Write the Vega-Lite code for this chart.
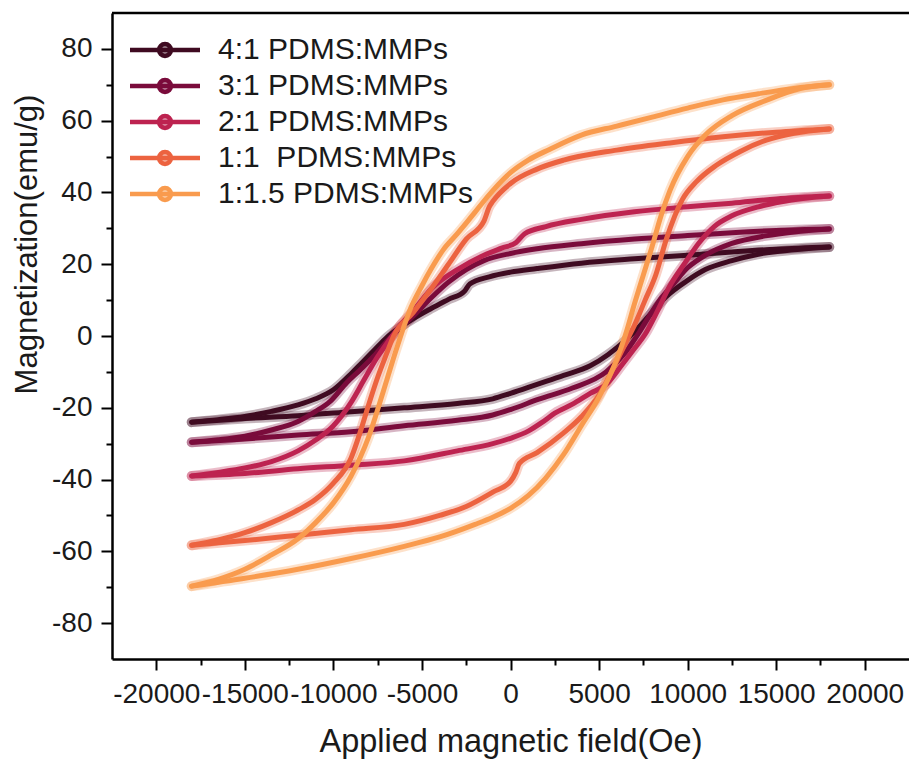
{
"$schema": "https://vega.github.io/schema/vega-lite/v6.json",
"width": 797, "height": 646,
"autosize": {"type": "none"},
"padding": {"left": 112, "top": 13, "right": 0, "bottom": 101},
"background": "white",
"config": {"view": {"stroke": null}, "font": "Liberation Sans"},
"data": {"values": [
{"s":"4:1 PDMS:MMPs","b":"d","h":18000,"m":24.8},{"s":"4:1 PDMS:MMPs","b":"d","h":15000,"m":24.2},{"s":"4:1 PDMS:MMPs","b":"d","h":12500,"m":23.4},{"s":"4:1 PDMS:MMPs","b":"d","h":10000,"m":22.5},{"s":"4:1 PDMS:MMPs","b":"d","h":7000,"m":21.5},{"s":"4:1 PDMS:MMPs","b":"d","h":4000,"m":20.3},{"s":"4:1 PDMS:MMPs","b":"d","h":1500,"m":18.8},{"s":"4:1 PDMS:MMPs","b":"d","h":0,"m":17.8},{"s":"4:1 PDMS:MMPs","b":"d","h":-1200,"m":16.5},{"s":"4:1 PDMS:MMPs","b":"d","h":-2300,"m":14.5},{"s":"4:1 PDMS:MMPs","b":"d","h":-2600,"m":12.5},{"s":"4:1 PDMS:MMPs","b":"d","h":-3500,"m":10.2},{"s":"4:1 PDMS:MMPs","b":"d","h":-4500,"m":7.6},{"s":"4:1 PDMS:MMPs","b":"d","h":-5500,"m":4.8},{"s":"4:1 PDMS:MMPs","b":"d","h":-6300,"m":2.2},{"s":"4:1 PDMS:MMPs","b":"d","h":-7000,"m":-0.5},{"s":"4:1 PDMS:MMPs","b":"d","h":-7700,"m":-4},{"s":"4:1 PDMS:MMPs","b":"d","h":-8400,"m":-7.5},{"s":"4:1 PDMS:MMPs","b":"d","h":-9000,"m":-10.5},{"s":"4:1 PDMS:MMPs","b":"d","h":-10000,"m":-15},{"s":"4:1 PDMS:MMPs","b":"d","h":-11000,"m":-17.5},{"s":"4:1 PDMS:MMPs","b":"d","h":-12000,"m":-19.2},{"s":"4:1 PDMS:MMPs","b":"d","h":-13500,"m":-21},{"s":"4:1 PDMS:MMPs","b":"d","h":-15000,"m":-22.4},{"s":"4:1 PDMS:MMPs","b":"d","h":-16500,"m":-23.3},{"s":"4:1 PDMS:MMPs","b":"d","h":-18000,"m":-24},
{"s":"4:1 PDMS:MMPs","b":"a","h":-18000,"m":-24},{"s":"4:1 PDMS:MMPs","b":"a","h":-15000,"m":-23},{"s":"4:1 PDMS:MMPs","b":"a","h":-12000,"m":-22.2},{"s":"4:1 PDMS:MMPs","b":"a","h":-9000,"m":-21.1},{"s":"4:1 PDMS:MMPs","b":"a","h":-6000,"m":-20},{"s":"4:1 PDMS:MMPs","b":"a","h":-3000,"m":-18.8},{"s":"4:1 PDMS:MMPs","b":"a","h":-1000,"m":-17.5},{"s":"4:1 PDMS:MMPs","b":"a","h":0,"m":-16},{"s":"4:1 PDMS:MMPs","b":"a","h":1500,"m":-13.5},{"s":"4:1 PDMS:MMPs","b":"a","h":3000,"m":-11},{"s":"4:1 PDMS:MMPs","b":"a","h":4500,"m":-8.3},{"s":"4:1 PDMS:MMPs","b":"a","h":5500,"m":-5.2},{"s":"4:1 PDMS:MMPs","b":"a","h":6200,"m":-2.5},{"s":"4:1 PDMS:MMPs","b":"a","h":7000,"m":1.2},{"s":"4:1 PDMS:MMPs","b":"a","h":7800,"m":5.5},{"s":"4:1 PDMS:MMPs","b":"a","h":8800,"m":11},{"s":"4:1 PDMS:MMPs","b":"a","h":10000,"m":15.5},{"s":"4:1 PDMS:MMPs","b":"a","h":11000,"m":18.5},{"s":"4:1 PDMS:MMPs","b":"a","h":12500,"m":21},{"s":"4:1 PDMS:MMPs","b":"a","h":14000,"m":22.8},{"s":"4:1 PDMS:MMPs","b":"a","h":16000,"m":24},{"s":"4:1 PDMS:MMPs","b":"a","h":18000,"m":24.8},
{"s":"3:1 PDMS:MMPs","b":"d","h":18000,"m":29.8},{"s":"3:1 PDMS:MMPs","b":"d","h":15000,"m":29.4},{"s":"3:1 PDMS:MMPs","b":"d","h":12500,"m":28.8},{"s":"3:1 PDMS:MMPs","b":"d","h":10000,"m":28},{"s":"3:1 PDMS:MMPs","b":"d","h":7000,"m":27},{"s":"3:1 PDMS:MMPs","b":"d","h":4000,"m":25.7},{"s":"3:1 PDMS:MMPs","b":"d","h":1500,"m":24.3},{"s":"3:1 PDMS:MMPs","b":"d","h":0,"m":23},{"s":"3:1 PDMS:MMPs","b":"d","h":-1500,"m":21},{"s":"3:1 PDMS:MMPs","b":"d","h":-2500,"m":18.5},{"s":"3:1 PDMS:MMPs","b":"d","h":-3500,"m":15},{"s":"3:1 PDMS:MMPs","b":"d","h":-4500,"m":10.5},{"s":"3:1 PDMS:MMPs","b":"d","h":-5500,"m":5.5},{"s":"3:1 PDMS:MMPs","b":"d","h":-6300,"m":2},{"s":"3:1 PDMS:MMPs","b":"d","h":-6900,"m":-1},{"s":"3:1 PDMS:MMPs","b":"d","h":-7700,"m":-5.5},{"s":"3:1 PDMS:MMPs","b":"d","h":-8500,"m":-9.5},{"s":"3:1 PDMS:MMPs","b":"d","h":-9250,"m":-13},{"s":"3:1 PDMS:MMPs","b":"d","h":-10200,"m":-18.3},{"s":"3:1 PDMS:MMPs","b":"d","h":-11000,"m":-21},{"s":"3:1 PDMS:MMPs","b":"d","h":-12000,"m":-23.8},{"s":"3:1 PDMS:MMPs","b":"d","h":-13500,"m":-26.2},{"s":"3:1 PDMS:MMPs","b":"d","h":-15000,"m":-27.9},{"s":"3:1 PDMS:MMPs","b":"d","h":-16500,"m":-28.9},{"s":"3:1 PDMS:MMPs","b":"d","h":-18000,"m":-29.6},
{"s":"3:1 PDMS:MMPs","b":"a","h":-18000,"m":-29.6},{"s":"3:1 PDMS:MMPs","b":"a","h":-15000,"m":-28.7},{"s":"3:1 PDMS:MMPs","b":"a","h":-12000,"m":-27.6},{"s":"3:1 PDMS:MMPs","b":"a","h":-9000,"m":-26.7},{"s":"3:1 PDMS:MMPs","b":"a","h":-6000,"m":-25},{"s":"3:1 PDMS:MMPs","b":"a","h":-3000,"m":-23.5},{"s":"3:1 PDMS:MMPs","b":"a","h":-1000,"m":-22},{"s":"3:1 PDMS:MMPs","b":"a","h":0,"m":-20.5},{"s":"3:1 PDMS:MMPs","b":"a","h":1600,"m":-17.6},{"s":"3:1 PDMS:MMPs","b":"a","h":3500,"m":-14.5},{"s":"3:1 PDMS:MMPs","b":"a","h":5400,"m":-10},{"s":"3:1 PDMS:MMPs","b":"a","h":6500,"m":-4.5},{"s":"3:1 PDMS:MMPs","b":"a","h":7200,"m":0.5},{"s":"3:1 PDMS:MMPs","b":"a","h":7700,"m":4.5},{"s":"3:1 PDMS:MMPs","b":"a","h":8500,"m":10.5},{"s":"3:1 PDMS:MMPs","b":"a","h":9200,"m":14.5},{"s":"3:1 PDMS:MMPs","b":"a","h":10000,"m":19},{"s":"3:1 PDMS:MMPs","b":"a","h":11000,"m":22.5},{"s":"3:1 PDMS:MMPs","b":"a","h":12500,"m":25.8},{"s":"3:1 PDMS:MMPs","b":"a","h":14400,"m":27.9},{"s":"3:1 PDMS:MMPs","b":"a","h":16000,"m":29},{"s":"3:1 PDMS:MMPs","b":"a","h":18000,"m":29.8},
{"s":"2:1 PDMS:MMPs","b":"d","h":18000,"m":39},{"s":"2:1 PDMS:MMPs","b":"d","h":15000,"m":38.2},{"s":"2:1 PDMS:MMPs","b":"d","h":12500,"m":37},{"s":"2:1 PDMS:MMPs","b":"d","h":10000,"m":36},{"s":"2:1 PDMS:MMPs","b":"d","h":7000,"m":34.6},{"s":"2:1 PDMS:MMPs","b":"d","h":4000,"m":32.5},{"s":"2:1 PDMS:MMPs","b":"d","h":2000,"m":30.5},{"s":"2:1 PDMS:MMPs","b":"d","h":800,"m":28.5},{"s":"2:1 PDMS:MMPs","b":"d","h":300,"m":26},{"s":"2:1 PDMS:MMPs","b":"d","h":-500,"m":24.5},{"s":"2:1 PDMS:MMPs","b":"d","h":-1500,"m":22.5},{"s":"2:1 PDMS:MMPs","b":"d","h":-3000,"m":18.5},{"s":"2:1 PDMS:MMPs","b":"d","h":-4400,"m":13.5},{"s":"2:1 PDMS:MMPs","b":"d","h":-5500,"m":7},{"s":"2:1 PDMS:MMPs","b":"d","h":-6300,"m":2.5},{"s":"2:1 PDMS:MMPs","b":"d","h":-6900,"m":-1.5},{"s":"2:1 PDMS:MMPs","b":"d","h":-7600,"m":-6.5},{"s":"2:1 PDMS:MMPs","b":"d","h":-8300,"m":-12.5},{"s":"2:1 PDMS:MMPs","b":"d","h":-9000,"m":-18.5},{"s":"2:1 PDMS:MMPs","b":"d","h":-10000,"m":-25},{"s":"2:1 PDMS:MMPs","b":"d","h":-11000,"m":-29},{"s":"2:1 PDMS:MMPs","b":"d","h":-12000,"m":-32},{"s":"2:1 PDMS:MMPs","b":"d","h":-13500,"m":-35},{"s":"2:1 PDMS:MMPs","b":"d","h":-15000,"m":-36.8},{"s":"2:1 PDMS:MMPs","b":"d","h":-16500,"m":-38},{"s":"2:1 PDMS:MMPs","b":"d","h":-18000,"m":-39},
{"s":"2:1 PDMS:MMPs","b":"a","h":-18000,"m":-39},{"s":"2:1 PDMS:MMPs","b":"a","h":-15000,"m":-38.3},{"s":"2:1 PDMS:MMPs","b":"a","h":-12000,"m":-37},{"s":"2:1 PDMS:MMPs","b":"a","h":-9000,"m":-36},{"s":"2:1 PDMS:MMPs","b":"a","h":-6000,"m":-34.8},{"s":"2:1 PDMS:MMPs","b":"a","h":-3000,"m":-32},{"s":"2:1 PDMS:MMPs","b":"a","h":-1000,"m":-30},{"s":"2:1 PDMS:MMPs","b":"a","h":0,"m":-28.5},{"s":"2:1 PDMS:MMPs","b":"a","h":1000,"m":-26.5},{"s":"2:1 PDMS:MMPs","b":"a","h":1800,"m":-24},{"s":"2:1 PDMS:MMPs","b":"a","h":2500,"m":-21.5},{"s":"2:1 PDMS:MMPs","b":"a","h":3500,"m":-19},{"s":"2:1 PDMS:MMPs","b":"a","h":4500,"m":-16},{"s":"2:1 PDMS:MMPs","b":"a","h":5400,"m":-13.5},{"s":"2:1 PDMS:MMPs","b":"a","h":6300,"m":-8},{"s":"2:1 PDMS:MMPs","b":"a","h":7000,"m":-3.5},{"s":"2:1 PDMS:MMPs","b":"a","h":7600,"m":0.5},{"s":"2:1 PDMS:MMPs","b":"a","h":8300,"m":7},{"s":"2:1 PDMS:MMPs","b":"a","h":9000,"m":14},{"s":"2:1 PDMS:MMPs","b":"a","h":9800,"m":20},{"s":"2:1 PDMS:MMPs","b":"a","h":10650,"m":26},{"s":"2:1 PDMS:MMPs","b":"a","h":11500,"m":30.5},{"s":"2:1 PDMS:MMPs","b":"a","h":12500,"m":33.5},{"s":"2:1 PDMS:MMPs","b":"a","h":14000,"m":36},{"s":"2:1 PDMS:MMPs","b":"a","h":15300,"m":37.4},{"s":"2:1 PDMS:MMPs","b":"a","h":16500,"m":38.3},{"s":"2:1 PDMS:MMPs","b":"a","h":18000,"m":39},
{"s":"1:1\u00a0 PDMS:MMPs","b":"d","h":18000,"m":57.7},{"s":"1:1\u00a0 PDMS:MMPs","b":"d","h":15000,"m":56.8},{"s":"1:1\u00a0 PDMS:MMPs","b":"d","h":12000,"m":55.5},{"s":"1:1\u00a0 PDMS:MMPs","b":"d","h":9000,"m":53.8},{"s":"1:1\u00a0 PDMS:MMPs","b":"d","h":6000,"m":51.8},{"s":"1:1\u00a0 PDMS:MMPs","b":"d","h":3000,"m":49},{"s":"1:1\u00a0 PDMS:MMPs","b":"d","h":1500,"m":46.5},{"s":"1:1\u00a0 PDMS:MMPs","b":"d","h":0,"m":42.5},{"s":"1:1\u00a0 PDMS:MMPs","b":"d","h":-1000,"m":37.5},{"s":"1:1\u00a0 PDMS:MMPs","b":"d","h":-1200,"m":36},{"s":"1:1\u00a0 PDMS:MMPs","b":"d","h":-1500,"m":32},{"s":"1:1\u00a0 PDMS:MMPs","b":"d","h":-2500,"m":27},{"s":"1:1\u00a0 PDMS:MMPs","b":"d","h":-3500,"m":20},{"s":"1:1\u00a0 PDMS:MMPs","b":"d","h":-4500,"m":13},{"s":"1:1\u00a0 PDMS:MMPs","b":"d","h":-5500,"m":6.5},{"s":"1:1\u00a0 PDMS:MMPs","b":"d","h":-6600,"m":0},{"s":"1:1\u00a0 PDMS:MMPs","b":"d","h":-7000,"m":-5},{"s":"1:1\u00a0 PDMS:MMPs","b":"d","h":-7500,"m":-11.5},{"s":"1:1\u00a0 PDMS:MMPs","b":"d","h":-8000,"m":-19},{"s":"1:1\u00a0 PDMS:MMPs","b":"d","h":-8500,"m":-27},{"s":"1:1\u00a0 PDMS:MMPs","b":"d","h":-9000,"m":-34},{"s":"1:1\u00a0 PDMS:MMPs","b":"d","h":-10000,"m":-41},{"s":"1:1\u00a0 PDMS:MMPs","b":"d","h":-11000,"m":-45.5},{"s":"1:1\u00a0 PDMS:MMPs","b":"d","h":-12000,"m":-48.5},{"s":"1:1\u00a0 PDMS:MMPs","b":"d","h":-13500,"m":-52},{"s":"1:1\u00a0 PDMS:MMPs","b":"d","h":-15000,"m":-54.8},{"s":"1:1\u00a0 PDMS:MMPs","b":"d","h":-16500,"m":-56.8},{"s":"1:1\u00a0 PDMS:MMPs","b":"d","h":-18000,"m":-58.3},
{"s":"1:1\u00a0 PDMS:MMPs","b":"a","h":-18000,"m":-58.3},{"s":"1:1\u00a0 PDMS:MMPs","b":"a","h":-15000,"m":-57},{"s":"1:1\u00a0 PDMS:MMPs","b":"a","h":-12000,"m":-55.5},{"s":"1:1\u00a0 PDMS:MMPs","b":"a","h":-9000,"m":-54},{"s":"1:1\u00a0 PDMS:MMPs","b":"a","h":-6000,"m":-52.5},{"s":"1:1\u00a0 PDMS:MMPs","b":"a","h":-4000,"m":-50},{"s":"1:1\u00a0 PDMS:MMPs","b":"a","h":-2500,"m":-47.5},{"s":"1:1\u00a0 PDMS:MMPs","b":"a","h":-1000,"m":-43.5},{"s":"1:1\u00a0 PDMS:MMPs","b":"a","h":0,"m":-40.5},{"s":"1:1\u00a0 PDMS:MMPs","b":"a","h":300,"m":-38},{"s":"1:1\u00a0 PDMS:MMPs","b":"a","h":500,"m":-35.5},{"s":"1:1\u00a0 PDMS:MMPs","b":"a","h":1500,"m":-32.5},{"s":"1:1\u00a0 PDMS:MMPs","b":"a","h":3000,"m":-27},{"s":"1:1\u00a0 PDMS:MMPs","b":"a","h":4000,"m":-22.5},{"s":"1:1\u00a0 PDMS:MMPs","b":"a","h":5000,"m":-16.5},{"s":"1:1\u00a0 PDMS:MMPs","b":"a","h":6000,"m":-7},{"s":"1:1\u00a0 PDMS:MMPs","b":"a","h":6700,"m":0},{"s":"1:1\u00a0 PDMS:MMPs","b":"a","h":7000,"m":3},{"s":"1:1\u00a0 PDMS:MMPs","b":"a","h":7600,"m":10},{"s":"1:1\u00a0 PDMS:MMPs","b":"a","h":8200,"m":17},{"s":"1:1\u00a0 PDMS:MMPs","b":"a","h":8800,"m":27},{"s":"1:1\u00a0 PDMS:MMPs","b":"a","h":9700,"m":38},{"s":"1:1\u00a0 PDMS:MMPs","b":"a","h":10500,"m":43},{"s":"1:1\u00a0 PDMS:MMPs","b":"a","h":11600,"m":47.5},{"s":"1:1\u00a0 PDMS:MMPs","b":"a","h":13000,"m":51.5},{"s":"1:1\u00a0 PDMS:MMPs","b":"a","h":14400,"m":54.5},{"s":"1:1\u00a0 PDMS:MMPs","b":"a","h":16000,"m":56.5},{"s":"1:1\u00a0 PDMS:MMPs","b":"a","h":18000,"m":57.7},
{"s":"1:1.5 PDMS:MMPs","b":"d","h":18000,"m":70},{"s":"1:1.5 PDMS:MMPs","b":"d","h":16000,"m":69},{"s":"1:1.5 PDMS:MMPs","b":"d","h":14000,"m":67.5},{"s":"1:1.5 PDMS:MMPs","b":"d","h":12000,"m":65.8},{"s":"1:1.5 PDMS:MMPs","b":"d","h":10000,"m":63.5},{"s":"1:1.5 PDMS:MMPs","b":"d","h":8000,"m":61},{"s":"1:1.5 PDMS:MMPs","b":"d","h":6000,"m":58.5},{"s":"1:1.5 PDMS:MMPs","b":"d","h":4000,"m":56},{"s":"1:1.5 PDMS:MMPs","b":"d","h":2200,"m":52},{"s":"1:1.5 PDMS:MMPs","b":"d","h":1000,"m":49},{"s":"1:1.5 PDMS:MMPs","b":"d","h":0,"m":45.5},{"s":"1:1.5 PDMS:MMPs","b":"d","h":-1000,"m":40.5},{"s":"1:1.5 PDMS:MMPs","b":"d","h":-1600,"m":37},{"s":"1:1.5 PDMS:MMPs","b":"d","h":-2000,"m":34.5},{"s":"1:1.5 PDMS:MMPs","b":"d","h":-3000,"m":28.5},{"s":"1:1.5 PDMS:MMPs","b":"d","h":-3800,"m":24},{"s":"1:1.5 PDMS:MMPs","b":"d","h":-4500,"m":18.5},{"s":"1:1.5 PDMS:MMPs","b":"d","h":-5000,"m":14},{"s":"1:1.5 PDMS:MMPs","b":"d","h":-5700,"m":7},{"s":"1:1.5 PDMS:MMPs","b":"d","h":-6200,"m":0},{"s":"1:1.5 PDMS:MMPs","b":"d","h":-6500,"m":-4.5},{"s":"1:1.5 PDMS:MMPs","b":"d","h":-7000,"m":-12.5},{"s":"1:1.5 PDMS:MMPs","b":"d","h":-7500,"m":-20.5},{"s":"1:1.5 PDMS:MMPs","b":"d","h":-8000,"m":-28},{"s":"1:1.5 PDMS:MMPs","b":"d","h":-8500,"m":-34},{"s":"1:1.5 PDMS:MMPs","b":"d","h":-9000,"m":-39},{"s":"1:1.5 PDMS:MMPs","b":"d","h":-10000,"m":-46.5},{"s":"1:1.5 PDMS:MMPs","b":"d","h":-11000,"m":-52},{"s":"1:1.5 PDMS:MMPs","b":"d","h":-12000,"m":-56.5},{"s":"1:1.5 PDMS:MMPs","b":"d","h":-13500,"m":-61},{"s":"1:1.5 PDMS:MMPs","b":"d","h":-15000,"m":-65},{"s":"1:1.5 PDMS:MMPs","b":"d","h":-16500,"m":-67.8},{"s":"1:1.5 PDMS:MMPs","b":"d","h":-18000,"m":-69.7},
{"s":"1:1.5 PDMS:MMPs","b":"a","h":-18000,"m":-69.7},{"s":"1:1.5 PDMS:MMPs","b":"a","h":-15000,"m":-67.5},{"s":"1:1.5 PDMS:MMPs","b":"a","h":-12000,"m":-65},{"s":"1:1.5 PDMS:MMPs","b":"a","h":-9000,"m":-62},{"s":"1:1.5 PDMS:MMPs","b":"a","h":-6000,"m":-58.6},{"s":"1:1.5 PDMS:MMPs","b":"a","h":-4000,"m":-56},{"s":"1:1.5 PDMS:MMPs","b":"a","h":-2000,"m":-52.5},{"s":"1:1.5 PDMS:MMPs","b":"a","h":-1000,"m":-50.5},{"s":"1:1.5 PDMS:MMPs","b":"a","h":0,"m":-48},{"s":"1:1.5 PDMS:MMPs","b":"a","h":1000,"m":-44.5},{"s":"1:1.5 PDMS:MMPs","b":"a","h":2000,"m":-39.5},{"s":"1:1.5 PDMS:MMPs","b":"a","h":3000,"m":-33},{"s":"1:1.5 PDMS:MMPs","b":"a","h":4000,"m":-25},{"s":"1:1.5 PDMS:MMPs","b":"a","h":5000,"m":-17},{"s":"1:1.5 PDMS:MMPs","b":"a","h":6000,"m":-6.5},{"s":"1:1.5 PDMS:MMPs","b":"a","h":6500,"m":0.5},{"s":"1:1.5 PDMS:MMPs","b":"a","h":7000,"m":9},{"s":"1:1.5 PDMS:MMPs","b":"a","h":7500,"m":17},{"s":"1:1.5 PDMS:MMPs","b":"a","h":8000,"m":25},{"s":"1:1.5 PDMS:MMPs","b":"a","h":8500,"m":33.5},{"s":"1:1.5 PDMS:MMPs","b":"a","h":9000,"m":40.5},{"s":"1:1.5 PDMS:MMPs","b":"a","h":10000,"m":50},{"s":"1:1.5 PDMS:MMPs","b":"a","h":11000,"m":56},{"s":"1:1.5 PDMS:MMPs","b":"a","h":12500,"m":61.4},{"s":"1:1.5 PDMS:MMPs","b":"a","h":14500,"m":65.8},{"s":"1:1.5 PDMS:MMPs","b":"a","h":16300,"m":68.9},{"s":"1:1.5 PDMS:MMPs","b":"a","h":18000,"m":70}
]},
"layer": [
{
"mark": {"type": "line", "interpolate": "monotone", "strokeWidth": 10, "opacity": 0.3, "strokeCap": "round", "strokeJoin": "round"},
"encoding": {
"x": {"field": "h", "type": "quantitative", "scale": {"domain": [-22500, 22500], "nice": false, "zero": false},
 "axis": {"values": [-20000,-15000,-10000,-5000,0,5000,10000,15000,20000], "labelExpr": "toString(datum.value)", "title": "Applied magnetic field(Oe)", "grid": false, "domainColor": "black", "domainWidth": 2.5, "tickColor": "black", "tickWidth": 2, "tickSize": 11, "labelFontSize": 28, "labelFont": "Liberation Sans", "labelColor": "#1a1a1a", "labelPadding": 10, "labelFlush": false, "labelOverlap": false, "titleFontSize": 32.5, "titleFont": "Liberation Sans", "titleFontWeight": "normal", "titleColor": "#1a1a1a", "titleY": 92, "titleBaseline": "alphabetic"}},
"y": {"field": "m", "type": "quantitative", "scale": {"domain": [-90, 90], "nice": false, "zero": false},
 "axis": {"values": [-80,-60,-40,-20,0,20,40,60,80], "labelExpr": "toString(datum.value)", "title": "Magnetization(emu/g)", "grid": false, "domainColor": "black", "domainWidth": 2.5, "tickColor": "black", "tickWidth": 2, "tickSize": 11, "labelFontSize": 28, "labelFont": "Liberation Sans", "labelColor": "#1a1a1a", "labelPadding": 9, "labelFlush": false, "labelOverlap": false, "titleFontSize": 31, "titleFont": "Liberation Sans", "titleFontWeight": "normal", "titleColor": "#1a1a1a", "titleX": -76, "titleY": 231, "titleAngle": -90, "titleAlign": "center", "titleBaseline": "alphabetic"}},
"color": {"field": "s", "type": "nominal", "scale": {"domain": ["4:1 PDMS:MMPs","3:1 PDMS:MMPs","2:1 PDMS:MMPs","1:1\u00a0 PDMS:MMPs","1:1.5 PDMS:MMPs"], "range": ["#3f0b21","#7a0b3b","#bd2350","#ec6340","#f99b4e"]},
 "legend": {"title": null, "orient": "none", "legendX": 38, "legendY": 22, "padding": 0,
  "symbolType": "M-5,0H5M0.85,0A0.85,0.85 0 1 1 -0.85,0A0.85,0.85 0 1 1 0.85,0",
  "symbolSize": 196, "symbolStrokeWidth": 4.5, "symbolOpacity": 1,
  "labelFontSize": 30, "labelFont": "Liberation Sans", "labelColor": "#1a1a1a", "labelOffset": 38, "labelLimit": 500, "rowPadding": 6,
  "encode": {"symbols": {"update": {"opacity": {"value": 1}, "strokeOpacity": {"value": 1}, "fill": {"scale": "color", "field": "value"}, "fillOpacity": {"value": 0.45}}}}}},
"detail": {"field": "b"}
}
},
{
"mark": {"type": "line", "interpolate": "monotone", "strokeWidth": 5, "strokeCap": "round", "strokeJoin": "round"},
"encoding": {
"x": {"field": "h", "type": "quantitative", "axis": {"orient": "bottom", "values": [-17500,-12500,-7500,-2500,2500,7500,12500,17500], "labels": false, "title": null, "domain": false, "grid": false, "tickSize": 6, "tickWidth": 2, "tickColor": "black"}},
"y": {"field": "m", "type": "quantitative", "axis": {"orient": "left", "values": [-70,-50,-30,-10,10,30,50,70], "labels": false, "title": null, "domain": false, "grid": false, "tickSize": 6, "tickWidth": 2, "tickColor": "black"}},
"color": {"field": "s", "type": "nominal"},
"detail": {"field": "b"}
}
},
{
"data": {"values": [{}]},
"mark": {"type": "rule", "color": "black", "strokeWidth": 2.5},
"encoding": {"y": {"datum": 90, "type": "quantitative", "axis": null}}
}
],
"resolve": {"axis": {"x": "independent", "y": "independent"}}
}
